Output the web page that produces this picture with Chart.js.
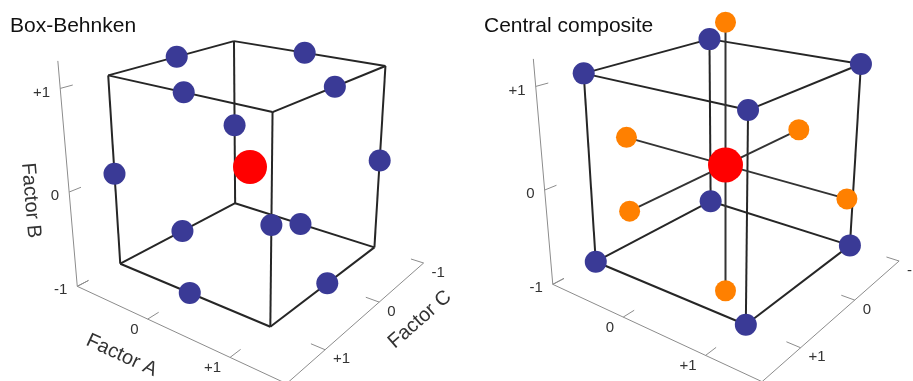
<!DOCTYPE html>
<html>
<head>
<meta charset="utf-8">
<script src="https://cdn.jsdelivr.net/npm/chart.js@4.4.1/dist/chart.umd.min.js"></script>
<style>
  html, body { margin: 0; padding: 0; background: #fff; width: 913px; height: 381px; overflow: hidden; }
  .panel { position: absolute; top: 0; height: 381px; overflow: hidden; }
  .panel canvas { position: absolute; left: 0; top: 0; }
  .title { position: absolute; left: 10px; top: 14px; font: 21px "Liberation Sans", Arial, sans-serif;
           line-height: 21px; color: #111; white-space: nowrap; }
</style>
</head>
<body>
<div class="panel" style="left:0; width:474px;">
  <canvas id="bb" width="474" height="381" style="width:474px;height:381px"></canvas>
  <div class="title">Box-Behnken</div>
</div>
<div class="panel" style="left:475px; width:438px;">
  <canvas id="cc" width="438" height="381" style="width:438px;height:381px"></canvas>
  <div class="title" style="left:9px">Central composite</div>
</div>
<script>
// ---- design data (coded factor levels, each run is [A, B, C]) ----
const TICK_VALUES = [-1, 0, 1];
const TICK_LABELS = ['-1', '0', '+1'];
const AXIS_TITLES = ['Factor A', 'Factor B', 'Factor C'];

// Box-Behnken: midpoints of the cube edges plus the centre run
const bbEdgeRuns = [
  [-1, -1, 0], [1, -1, 0], [-1, 1, 0], [1, 1, 0],
  [-1, 0, -1], [1, 0, -1], [-1, 0, 1], [1, 0, 1],
  [0, -1, -1], [0, 1, -1], [0, -1, 1], [0, 1, 1]
];
const bbCentreRuns = [[0, 0, 0]];

// Central composite: factorial corners, axial (star) runs, centre run
const ccFactorialRuns = [
  [-1, -1, -1], [1, -1, -1], [-1, 1, -1], [1, 1, -1],
  [-1, -1, 1], [1, -1, 1], [-1, 1, 1], [1, 1, 1]
];
const ccAxialRuns = [
  [-1.45, 0, 0], [1.45, 0, 0],
  [0, -1.45, 0], [0, 1.45, 0],
  [0, 0, -1.45], [0, 0, 1.45]
];
const ccCentreRuns = [[0, 0, 0]];

// ---- viewing set-up ----
const VIEW = { yaw: 37.3, pitch: 20.6, dist: 8.1, fx: 766, fy: 798 };
// axis frame: floor level, offset of the front axes, top of the vertical axis, tick length
const FRAME = { floor: -1, front: 1.6, side: 1.6, top: 1.25, tick: 0.15 };

const COLORS = {
  run: '#3a3a96', axial: '#ff8000', centre: '#ff0000',
  edge: '#262626', star: '#333333', axis: '#8c8c8c', text: '#333333'
};
const FONT = '"Liberation Sans", Arial, sans-serif';

const dot = (u, v) => u[0] * v[0] + u[1] * v[1] + u[2] * v[2];

function makeCamera(cx, cy) {
  const r = Math.PI / 180;
  const ys = Math.sin(VIEW.yaw * r), yc = Math.cos(VIEW.yaw * r);
  const ps = Math.sin(VIEW.pitch * r), pc = Math.cos(VIEW.pitch * r);
  const F = [-ys * pc, -ps, -yc * pc];
  const R = [yc, 0, -ys];
  const U = [-ys * ps, pc, -yc * ps];
  const eye = F.map(v => -v * VIEW.dist);
  return p => {
    const v = [p[0] - eye[0], p[1] - eye[1], p[2] - eye[2]];
    const d = dot(v, F);
    return { x: cx + VIEW.fx * dot(v, R) / d, y: cy - VIEW.fy * dot(v, U) / d, depth: d };
  };
}

function cubeEdges() {
  const corners = [];
  for (const a of [-1, 1]) for (const b of [-1, 1]) for (const c of [-1, 1]) corners.push([a, b, c]);
  const edges = [];
  for (let i = 0; i < corners.length; i++)
    for (let j = i + 1; j < corners.length; j++) {
      const diff = corners[i].filter((v, k) => v !== corners[j][k]).length;
      if (diff === 1) edges.push([corners[i], corners[j]]);
    }
  return edges;
}

function frameSegments() {
  const f = FRAME, segs = [];
  segs.push([[-1, f.floor, f.front], [f.side, f.floor, f.front]]);   // A axis
  segs.push([[-1, f.floor, f.front], [-1, f.top, f.front]]);          // B axis
  segs.push([[f.side, f.floor, -1], [f.side, f.floor, f.front]]);     // C axis
  TICK_VALUES.forEach(t => {
    segs.push([[t, f.floor, f.front], [t, f.floor, f.front - f.tick]]);
    segs.push([[-1, t, f.front], [-1, t, f.front - f.tick]]);
    segs.push([[f.side, f.floor, t], [f.side - f.tick, f.floor, t]]);
  });
  return segs;
}

function pointSet(cam, runs, color, radius, order) {
  const pts = runs.map(cam).sort((p, q) => q.depth - p.depth).map(p => ({ x: p.x, y: p.y }));
  return {
    data: pts, showLine: false, order: order, clip: false,
    pointRadius: radius, pointHoverRadius: radius,
    pointBackgroundColor: color, pointBorderColor: color, pointBorderWidth: 0
  };
}

function lineSet(cam, seg, color, width, order) {
  return {
    data: seg.map(cam).map(p => ({ x: p.x, y: p.y })), showLine: true, order: order, clip: false,
    pointRadius: 0, pointHoverRadius: 0, borderColor: color, borderWidth: width, fill: false
  };
}

// draws tick labels and axis titles along the projected frame
function labelPlugin(cam, withTitles) {
  return {
    id: 'frameLabels',
    afterDatasetsDraw(chart) {
      const ctx = chart.ctx, f = FRAME;
      ctx.save();
      ctx.fillStyle = COLORS.text;
      ctx.font = '15px ' + FONT;
      TICK_VALUES.forEach((t, i) => {
        const txt = TICK_LABELS[i];
        // vertical axis
        let p = cam([-1, t, f.front]);
        ctx.textAlign = 'right'; ctx.textBaseline = 'middle';
        ctx.fillText(txt, p.x - 10, p.y + 4);
        // A axis (the -1 position is shared with the vertical axis corner)
        if (t !== -1) {
          p = cam([t, f.floor, f.front]);
          ctx.textAlign = 'right'; ctx.textBaseline = 'top';
          ctx.fillText(txt, p.x - 9, p.y + 3);
        }
        // C axis
        p = cam([f.side, f.floor, t]);
        ctx.textAlign = 'left'; ctx.textBaseline = 'top';
        ctx.fillText(txt, p.x + 8, p.y + 2);
      });
      if (withTitles) {
        ctx.font = '20px ' + FONT;
        ctx.textAlign = 'center'; ctx.textBaseline = 'middle';
        const title = (from, to, at, offset, text) => {
          const p0 = cam(from), p1 = cam(to), pm = cam(at);
          const ang = Math.atan2(p1.y - p0.y, p1.x - p0.x);
          const nx = -Math.sin(ang), ny = Math.cos(ang);
          ctx.save();
          ctx.translate(pm.x + nx * offset, pm.y + ny * offset);
          ctx.rotate(ang);
          ctx.fillText(text, 0, 0);
          ctx.restore();
        };
        title([-1, f.floor, f.front], [1, f.floor, f.front], [-0.1, f.floor, f.front], 44, AXIS_TITLES[0]);
        title([-1, 1, f.front], [-1, -1, f.front], [-1, -0.05, f.front], 39, AXIS_TITLES[1]);
        title([f.side, f.floor, 1], [f.side, f.floor, -1], [f.side, f.floor, -0.3], 40, AXIS_TITLES[2]);
      }
      ctx.restore();
    }
  };
}

function buildChart(canvasId, cam, pointSets, lineSegs, withTitles) {
  const canvas = document.getElementById(canvasId);
  const W = canvas.width, H = canvas.height;
  const datasets = [...pointSets, ...lineSegs];
  return new Chart(canvas, {
    type: 'scatter',
    data: { datasets },
    options: {
      responsive: false, animation: false, devicePixelRatio: 1,
      layout: { padding: 0, autoPadding: false },
      events: [],
      scales: {
        x: { type: 'linear', min: 0, max: W, display: false },
        y: { type: 'linear', min: 0, max: H, reverse: true, display: false }
      },
      plugins: { legend: { display: false }, tooltip: { enabled: false } }
    },
    plugins: [labelPlugin(cam, withTitles)]
  });
}

// ---- Box-Behnken panel ----
const camBB = makeCamera(250, 167);
buildChart('bb', camBB,
  [
    pointSet(camBB, bbCentreRuns, COLORS.centre, 17, 0),
    pointSet(camBB, bbEdgeRuns, COLORS.run, 11, 1)
  ],
  [
    ...cubeEdges().map(s => lineSet(camBB, s, COLORS.edge, 2, 2)),
    ...frameSegments().map(s => lineSet(camBB, s, COLORS.axis, 1, 3))
  ],
  true);

// ---- Central composite panel ----
const camCC = makeCamera(250.5, 165);
const starSegs = [0, 1, 2].map(k => [ccAxialRuns[2 * k], ccAxialRuns[2 * k + 1]]);
buildChart('cc', camCC,
  [
    pointSet(camCC, ccCentreRuns, COLORS.centre, 17.5, 0),
    pointSet(camCC, ccFactorialRuns, COLORS.run, 11, 1),
    pointSet(camCC, ccAxialRuns, COLORS.axial, 10.5, 1)
  ],
  [
    ...starSegs.map(s => lineSet(camCC, s, COLORS.star, 2, 2)),
    ...cubeEdges().map(s => lineSet(camCC, s, COLORS.edge, 2, 2)),
    ...frameSegments().map(s => lineSet(camCC, s, COLORS.axis, 1, 3))
  ],
  false);
</script>
</body>
</html>
